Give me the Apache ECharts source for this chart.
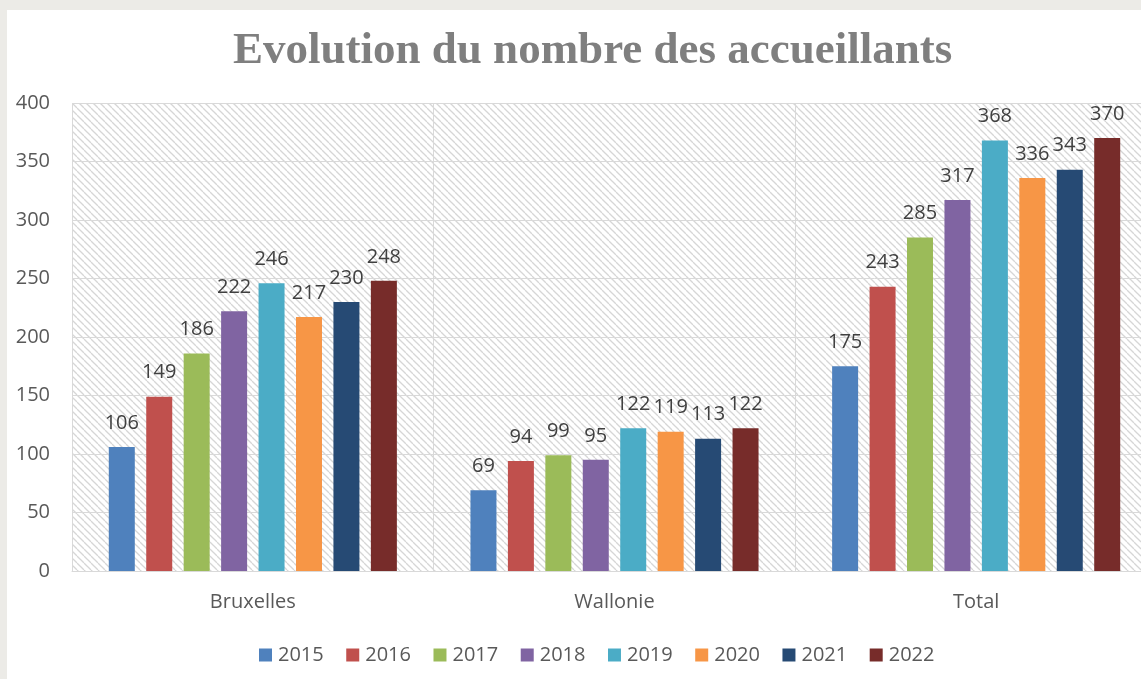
<!DOCTYPE html>
<html>
<head>
<meta charset="utf-8">
<script src="https://cdn.jsdelivr.net/npm/echarts@6/dist/echarts.min.js"></script>
<style>
  html, body { margin: 0; padding: 0; background: #ecebe7; }
  #chart { position: absolute; left: 7px; top: 10px; width: 1134px; height: 669px; background: #ffffff; }
</style>
</head>
<body>
<div id="chart"></div>
<script>
const categories = ["Bruxelles", "Wallonie", "Total"];
const years = ["2015", "2016", "2017", "2018", "2019", "2020", "2021", "2022"];
const v2015 = [106, 69, 175];
const v2016 = [149, 94, 243];
const v2017 = [186, 99, 285];
const v2018 = [222, 95, 317];
const v2019 = [246, 122, 368];
const v2020 = [217, 119, 336];
const v2021 = [230, 113, 343];
const v2022 = [248, 122, 370];
const colors = ["#4f81bd", "#c0504d", "#9bbb59", "#8064a2", "#4bacc6", "#f79646", "#264a74", "#772c2a"];

/* fond hachuré */
const hatch = document.createElement("canvas");
hatch.width = hatch.height = 7;
const ctx = hatch.getContext("2d");
ctx.fillStyle = "#ffffff";
ctx.fillRect(0, 0, 7, 7);
ctx.strokeStyle = "#d6d6d6";
ctx.lineWidth = 1.3;
[-7, 0, 7].forEach((o) => {
  ctx.beginPath();
  ctx.moveTo(o, 0);
  ctx.lineTo(o + 7, 7);
  ctx.stroke();
});

const values = [v2015, v2016, v2017, v2018, v2019, v2020, v2021, v2022];

let myChart = echarts.init(document.getElementById("chart"));
let option = {
  animation: false,
  title: {
    text: "Evolution du nombre des accueillants",
    left: 221,
    top: 14,
    textStyle: {
      fontFamily: "Liberation Serif",
      fontWeight: "bold",
      fontSize: 45,
      color: "#7f7f7f",
    },
  },
  legend: {
    bottom: 9,
    left: 247,
    itemWidth: 13,
    itemHeight: 13,
    itemGap: 22.5,
    icon: "rect",
    textStyle: { fontSize: 20, color: "#595959", fontFamily: "Open Sans", padding: [0, 0, 0, 1] },
    data: years,
  },
  grid: {
    left: 65,
    width: 1085,
    top: 93,
    bottom: 108,
    outerBoundsMode: "none",
    containLabel: false,
    show: true,
    borderWidth: 0,
    backgroundColor: { image: hatch, repeat: "repeat" },
  },
  xAxis: {
    type: "category",
    data: categories,
    axisLine: { lineStyle: { color: "#d9d9d9", width: 1 } },
    axisTick: { show: false },
    splitLine: { show: true, lineStyle: { color: "#d9d9d9" } },
    axisLabel: { fontSize: 20, color: "#595959", margin: 21, fontFamily: "Open Sans" },
  },
  yAxis: {
    type: "value",
    min: 0,
    max: 400,
    interval: 50,
    axisLine: { show: false },
    axisTick: { show: false },
    splitLine: { lineStyle: { color: "#d9d9d9" } },
    axisLabel: { fontSize: 20, color: "#595959", margin: 22, fontFamily: "Open Sans" },
  },
  series: years.map((y, i) => ({
    name: y,
    type: "bar",
    data: values[i],
    barWidth: 26,
    barGap: "44%",
    itemStyle: { color: colors[i] },
    label: {
      show: true,
      position: "top",
      distance: 14,
      fontSize: 20,
      color: "#404040",
      fontFamily: "Open Sans",
    },
  })),
};
option && myChart.setOption(option);
</script>
</body>
</html>
